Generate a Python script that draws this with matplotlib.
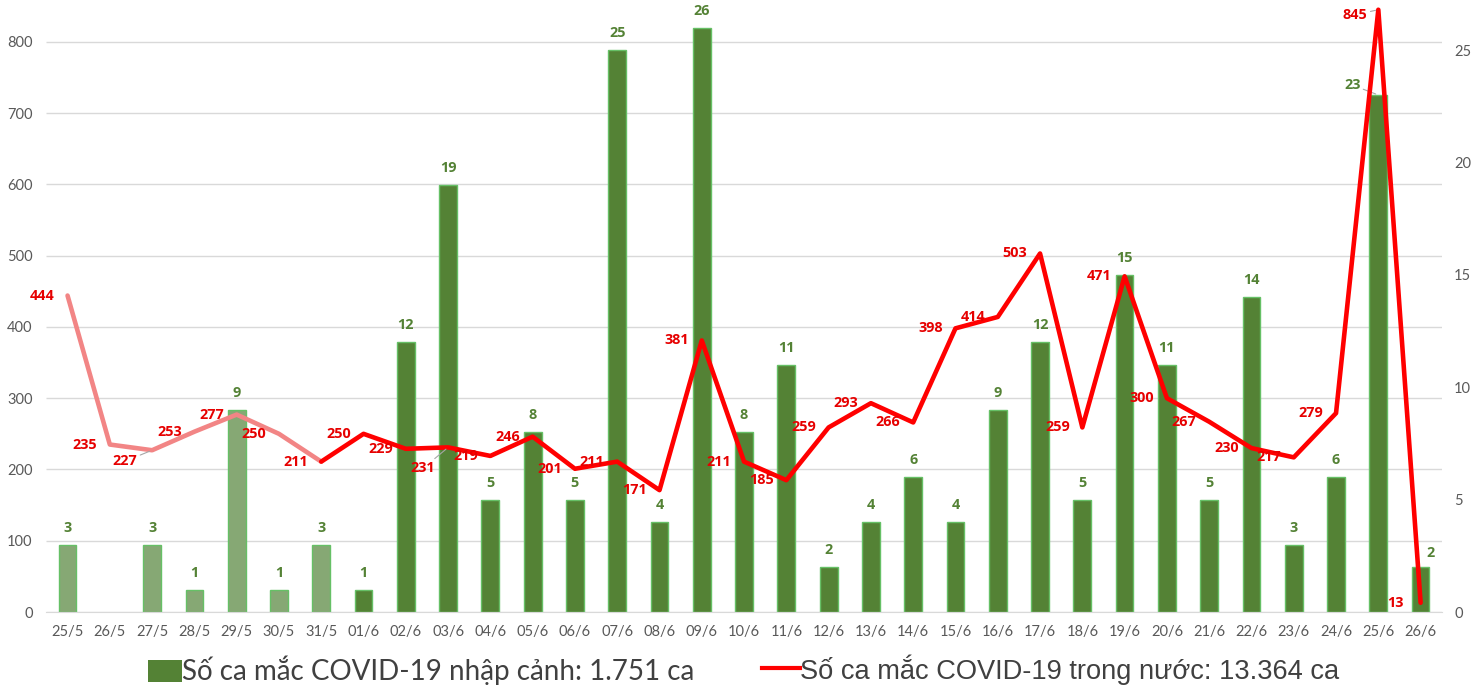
import matplotlib
matplotlib.use("Agg")
import matplotlib.pyplot as plt
from matplotlib.patches import Rectangle
from matplotlib.lines import Line2D

# Daily figures, 25/5 - 26/6
dates = ["25/5", "26/5", "27/5", "28/5", "29/5", "30/5", "31/5",
         "01/6", "02/6", "03/6", "04/6", "05/6", "06/6", "07/6", "08/6",
         "09/6", "10/6", "11/6", "12/6", "13/6", "14/6", "15/6", "16/6",
         "17/6", "18/6", "19/6", "20/6", "21/6", "22/6", "23/6", "24/6",
         "25/6", "26/6"]
imported_cases = [3, 0, 3, 1, 9, 1, 3,
                  1, 12, 19, 5, 8, 5, 25, 4,
                  26, 8, 11, 2, 4, 6, 4, 9,
                  12, 5, 15, 11, 5, 14, 3, 6,
                  23, 2]
domestic_cases = [444, 235, 227, 253, 277, 250, 211,
                  250, 229, 231, 219, 246, 201, 211, 171,
                  381, 211, 185, 259, 293, 266, 398, 414,
                  503, 259, 471, 300, 267, 230, 217, 279,
                  845, 13]
left_ticks = [0, 100, 200, 300, 400, 500, 600, 700, 800]
right_ticks = [0, 5, 10, 15, 20, 25]
legend_imported = "Số ca mắc COVID-19 nhập cảnh: 1.751 ca"
legend_domestic = "Số ca mắc COVID-19 trong nước: 13.364 ca"

n_faded = 7  # the first week is drawn in lighter tones

GREEN = "#548235"
GREEN_LIGHT = "#86a874"
GREEN_EDGE = "#66c066"
RED = "#ff0000"
RED_LIGHT = "#f28585"
LABEL_RED = "#e60000"
GRID = "#d9d9d9"
TICK = "#595959"

fig = plt.figure(figsize=(14.8, 6.9), dpi=100)
ax = fig.add_axes([0.03135, 0.113, 0.9428, 0.8884])  # line, left scale
ax2 = ax.twinx()                                      # bars, right scale
ax.set_zorder(2)
ax2.set_zorder(1)
ax.patch.set_visible(False)

x = list(range(len(dates)))

# grid lines follow the left scale but sit behind the bars
ax2.hlines(left_ticks, 0, 1, transform=ax.get_yaxis_transform(),
           colors=GRID, linewidth=1, zorder=0)

# bars (no outline on empty days)
bar_faces = [GREEN_LIGHT if i < n_faded else GREEN for i in x]
bar_edges = [1.0 if v > 0 else 0.0 for v in imported_cases]
ax2.bar(x, imported_cases, width=0.42, color=bar_faces,
        edgecolor=GREEN_EDGE, linewidth=bar_edges, zorder=2)

# line: faded first week, then bright red
ax.plot(x[:n_faded], domestic_cases[:n_faded], color=RED_LIGHT, lw=3.3,
        solid_joinstyle="round", solid_capstyle="round", zorder=3)
ax.plot(x[n_faded - 1:], domestic_cases[n_faded - 1:], color=RED, lw=3.3,
        solid_joinstyle="round", solid_capstyle="round", zorder=3,
        clip_on=False)

label_font = dict(family="Open Sans", weight="bold", size=10.4)

# line value labels (to the left of each point)
line_offsets = {2: (-27, -11), 9: (-25, -21), 31: (-23, -5)}
leader = dict(arrowstyle="-", color="#a6a6a6", lw=0.8, shrinkA=0, shrinkB=2)
for i, v in zip(x, domestic_cases):
    dx, dy = line_offsets.get(i, (-25, 0))
    kw = {}
    if i in line_offsets:
        kw["arrowprops"] = leader
    ax.annotate(str(v), (i, v), xytext=(dx, dy), textcoords="offset pixels",
                ha="center", va="center", color=LABEL_RED,
                zorder=5, annotation_clip=False, **label_font, **kw)

# bar value labels (above each bar)
bar_offsets = {31: (-26, 10), 32: (10, 14)}
for i, v in zip(x, imported_cases):
    if v == 0:
        continue
    dx, dy = bar_offsets.get(i, (0, 17))
    kw = {"arrowprops": leader} if i == 31 else {}
    ax2.annotate(str(v), (i, v), xytext=(dx, dy),
                 textcoords="offset pixels", ha="center", va="center",
                 color=GREEN, **label_font, **kw)

# scales
ax.set_xlim(-0.5, len(dates) - 0.5)
ax.set_ylim(0, 860)
ax2.set_ylim(0, 27.27)
ax.set_yticks(left_ticks)
ax2.set_yticks(right_ticks)
ax.set_xticks(x)
ax.set_xticklabels(dates)

for lab in ax.get_xticklabels() + ax.get_yticklabels() + ax2.get_yticklabels():
    lab.set_fontfamily("Lato")
    lab.set_fontsize(10.5)
    lab.set_color(TICK)
ax.tick_params(axis="both", length=0)
ax2.tick_params(axis="both", length=0)
ax.tick_params(axis="x", pad=9)
ax.tick_params(axis="y", pad=10)
ax2.tick_params(axis="y", pad=9)

for a in (ax, ax2):
    for s in ("top", "left", "right", "bottom"):
        a.spines[s].set_visible(False)
ax2.spines["bottom"].set_visible(True)
ax2.spines["bottom"].set_color(GRID)

# legend along the bottom
H = 690.0
W = 1480.0
fig.add_artist(Rectangle((148 / W, 1 - 682 / H), 34 / W, 22 / H,
                         transform=fig.transFigure, facecolor=GREEN,
                         edgecolor="none"))
fig.text(182 / W, 1 - 670 / H, legend_imported, family="Lato", size=20,
         color="#404040", ha="left", va="center")
fig.add_artist(Line2D([762 / W, 800 / W], [1 - 668 / H, 1 - 668 / H],
                      transform=fig.transFigure, color=RED, lw=3))
fig.text(800 / W, 1 - 670 / H, legend_domestic,
         family="Liberation Sans", size=19.6,
         color="#404040", ha="left", va="center")

fig.savefig("out.png", dpi=100, facecolor="white")
